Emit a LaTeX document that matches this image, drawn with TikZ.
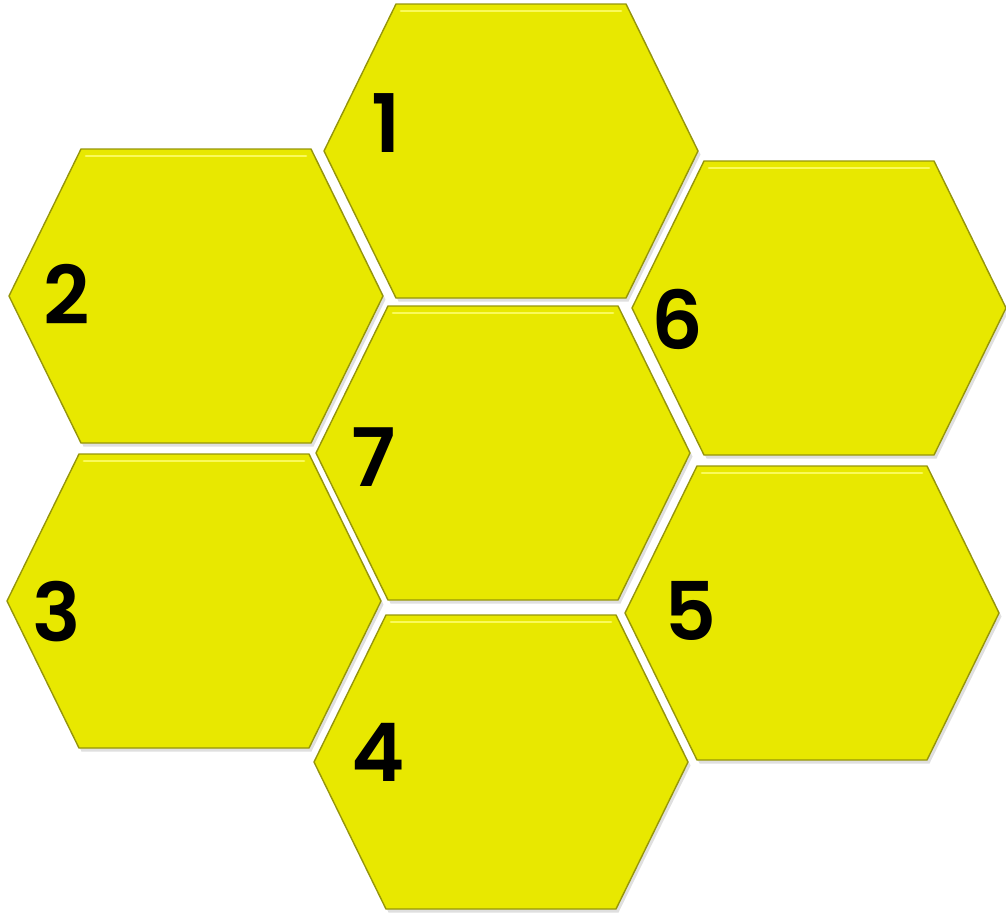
\documentclass[tikz,border=0pt]{standalone}
\usepackage{fontspec}
\setmainfont{Poppins}
\newfontfamily\numfont{Poppins SemiBold}
\usepackage{tikz}
\usetikzlibrary{shadows}
\definecolor{hexfill}{RGB}{232,232,0}
\definecolor{hexedge}{RGB}{150,150,10}
\definecolor{hexlight}{RGB}{250,250,90}

\tikzset{
  hexcell/.style={fill=hexfill,draw=hexedge,line width=0.8pt,line join=round,
    drop shadow={opacity=0.25,shadow xshift=0.05,shadow yshift=-0.07}},
  hexrim/.style={draw=hexlight,line width=1.6pt,line cap=round},
  num/.style={font=\fontsize{46}{46}\selectfont\numfont,inner sep=0pt}
}
\newcommand{\hexpath}{(-3.74,0) -- (-2.3,2.94) -- (2.3,2.94) -- (3.74,0) -- (2.3,-2.94) -- (-2.3,-2.94) -- cycle}

\begin{document}
\begin{tikzpicture}
\useasboundingbox (0,0) rectangle (20.12,-18.46);
% honeycomb cells
\foreach \n/\x/\y in {1/10.22/-3.02, 2/3.92/-5.92, 6/16.38/-6.16, 7/10.06/-9.06,
                       3/3.88/-12.02, 5/16.24/-12.26, 4/10.02/-15.24} {
  \coordinate (h\n) at (\x,\y);
  \draw[hexcell,shift={(h\n)}] \hexpath;
  \draw[hexrim,shift={(h\n)}] (-2.2,2.8) -- (2.2,2.8);
}
% numbers
\node[num] (n1) at (7.72,-2.46) {1};
\node[num] (n2) at (1.34,-5.88) {2};
\node[num] (n6) at (13.54,-6.38) {6};
\node[num] (n7) at (7.48,-9.14) {7};
\node[num] (n3) at (1.14,-12.24) {3};
\node[num] (n5) at (13.82,-12.22) {5};
\node[num] (n4) at (7.56,-15.04) {4};
\end{tikzpicture}
\end{document}
